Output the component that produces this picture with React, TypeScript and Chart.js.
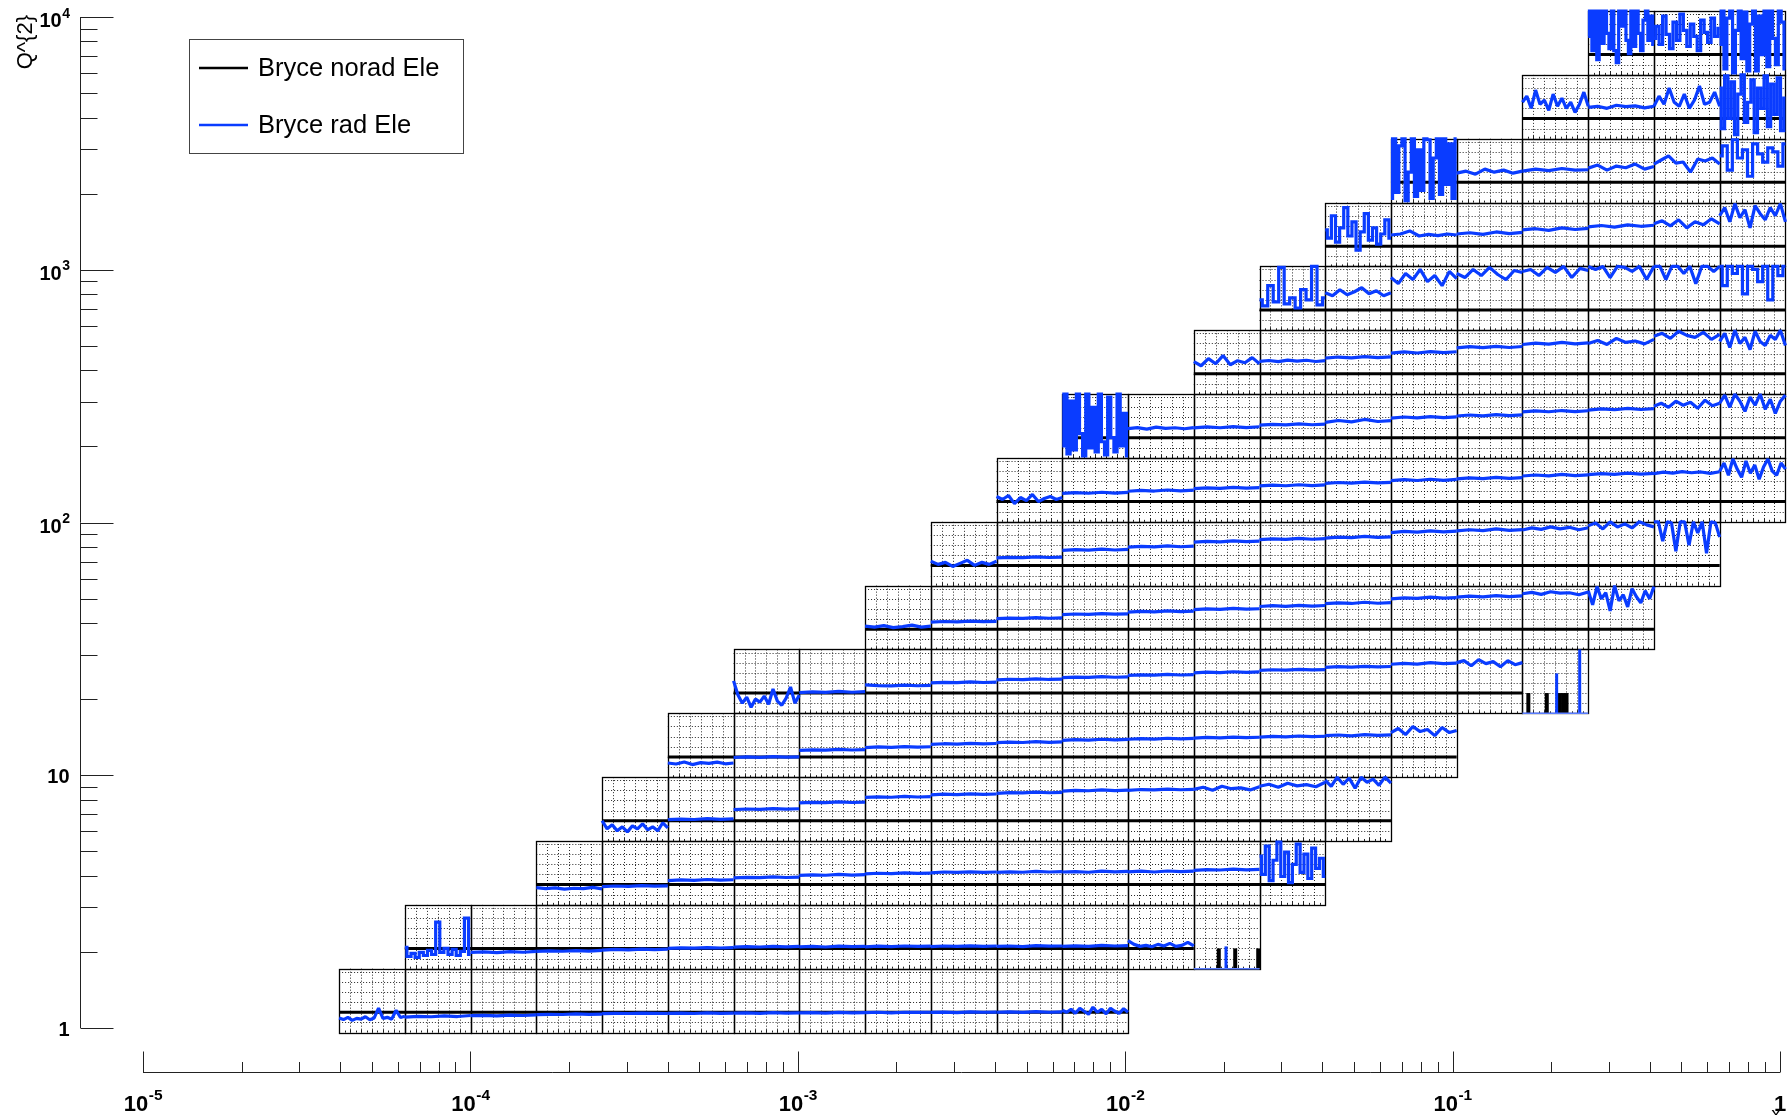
import React, { useEffect, useRef } from "react";
import { Chart, registerables } from "chart.js";

Chart.register(...registerables);

// ---- bin edges of the (x, Q^2) grid ----
const X_EDGES = [3.972e-5, 6.307e-5, 1.0014e-4, 1.59e-4, 2.525e-4, 4.009e-4, 6.365e-4, 1.0106e-3, 1.605e-3, 2.548e-3, 4.046e-3, 6.424e-3, 1.02e-2, 1.62e-2, 2.572e-2, 4.083e-2, 6.483e-2, 0.1029, 0.1634, 0.2596, 0.4121, 0.6543, 1.039];
const Q2_EDGES = [0.9594, 1.717, 3.07, 5.494, 9.827, 17.58, 31.45, 56.26, 100.6, 180.0, 322.1, 576.1, 1031, 1844, 3299, 5902, 10559];
const ROW_START_COL = [0, 1, 3, 4, 5, 6, 8, 9, 10, 11, 13, 14, 15, 16, 18, 19];
const NORAD_LEVEL = [1, 1, 1, 1, 1, 1, 1, 1, 1, 1, 1, 1, 1, 1, 1, 1];
const INNER_MAX = 3.15;
const GRID_V = [0.5, 1, 1.5, 2, 2.5, 3];
const GRID_T = [1 / 6, 2 / 6, 3 / 6, 4 / 6, 5 / 6];

// ---- radiative (blue) values per box, inner units (norad = 1) ----
const RAD_ROW_0 = [
  [0.72, 0.64, 0.75, 0.6, 0.7, 0.66, 0.78, 0.63, 0.72, 1.2, 0.7, 0.75, 0.66, 1.1, 0.74, 0.8],
  [0.76, 0.8, 0.78, 0.82, 0.79, 0.84],
  [0.83, 0.85, 0.82, 0.86, 0.84, 0.87],
  [0.88, 0.9, 0.89, 0.92, 0.9, 0.91],
  [0.93, 0.95, 0.94, 0.96, 0.95, 0.94],
  [0.95, 0.96, 0.94, 0.97, 0.95, 0.96],
  [0.96, 0.97, 0.95, 0.98, 0.96, 0.97],
  [0.97, 0.98, 0.96, 0.99, 0.97, 0.98],
  [0.98, 1.0, 0.97, 1.0, 0.99, 1.0],
  [0.99, 1.01, 0.98, 1.02, 1.0, 1.01],
  [1.0, 1.02, 0.99, 1.03, 1.0, 1.02],
  [1.1, 1.0, 1.15, 0.95, 1.2, 1.05, 0.9, 1.25, 1.0, 1.15, 0.92, 1.2, 1.05, 0.95, 1.18, 1.0],
];
const RAD_ROW_1 = [
  [1.05, 0.6, 0.75, 0.55, 0.8, 0.65, 0.9, 0.7, 2.3, 0.8, 1.0, 0.7, 0.95, 0.65, 0.85, 2.5, 0.7],
  [0.8, 0.83, 0.79, 0.84, 0.81, 0.85],
  [0.85, 0.88, 0.86, 0.89, 0.87, 0.9],
  [0.92, 0.95, 0.93, 0.96, 0.94, 0.96],
  [1.0, 1.03, 1.01, 1.04, 1.02, 1.04],
  [1.06, 1.09, 1.07, 1.1, 1.08, 1.1],
  [1.08, 1.1, 1.07, 1.11, 1.09, 1.1],
  [1.08, 1.11, 1.09, 1.12, 1.1, 1.11],
  [1.09, 1.12, 1.1, 1.13, 1.1, 1.12],
  [1.1, 1.12, 1.09, 1.14, 1.11, 1.12],
  [1.1, 1.13, 1.1, 1.15, 1.12, 1.14],
  [1.38, 1.2, 1.1, 1.15, 1.08, 1.2, 1.12, 1.25, 1.1, 1.15, 1.3, 1.12],
];
const RAD_ROW_2 = [
  [0.85, 0.8, 0.84, 0.78, 0.82, 0.8, 0.86, 0.79],
  [0.9, 0.93, 0.91, 0.95, 0.92, 0.94],
  [1.2, 1.23, 1.21, 1.25, 1.22, 1.24],
  [1.33, 1.36, 1.34, 1.38, 1.35, 1.37],
  [1.45, 1.48, 1.46, 1.5, 1.47, 1.49],
  [1.53, 1.56, 1.54, 1.58, 1.55, 1.57],
  [1.58, 1.62, 1.6, 1.63, 1.6, 1.62],
  [1.6, 1.63, 1.61, 1.65, 1.62, 1.64],
  [1.62, 1.64, 1.61, 1.66, 1.63, 1.65],
  [1.63, 1.66, 1.62, 1.67, 1.64, 1.66],
  [1.7, 1.74, 1.72, 1.76, 1.73, 1.75],
  [2.4, 1.5, 2.9, 1.2, 2.2, 3.1, 1.4, 2.6, 1.1, 2.0, 3.0, 1.6, 2.5, 1.3, 2.8, 1.8, 2.3, 1.4],
];
const RAD_ROW_3 = [
  [1.0, 0.6, 0.8, 0.5, 0.7, 0.45, 0.75, 0.6, 0.85, 0.55, 0.7, 0.5, 0.9, 0.65],
  [1.05, 1.08, 1.06, 1.1, 1.07, 1.09],
  [1.55, 1.58, 1.56, 1.6, 1.57, 1.59],
  [1.88, 1.91, 1.89, 1.93, 1.9, 1.92],
  [2.15, 2.18, 2.16, 2.2, 2.17, 2.19],
  [2.28, 2.31, 2.29, 2.33, 2.3, 2.32],
  [2.35, 2.39, 2.37, 2.41, 2.38, 2.4],
  [2.46, 2.5, 2.48, 2.52, 2.49, 2.51],
  [2.5, 2.54, 2.52, 2.56, 2.53, 2.55],
  [2.55, 2.65, 2.5, 2.7, 2.58, 2.62, 2.52, 2.68],
  [2.7, 2.8, 2.65, 2.85, 2.72, 2.78, 2.68, 2.9],
  [3.0, 2.7, 3.15, 2.8, 3.1, 2.6, 3.15, 2.9, 3.05, 2.75, 3.15, 2.85],
];
const RAD_ROW_4 = [
  [0.7, 0.65, 0.75, 0.62, 0.72, 0.68, 0.74, 0.66, 0.7],
  [0.97, 1.0, 0.98, 1.01, 0.99, 1.0],
  [1.32, 1.35, 1.33, 1.37, 1.34, 1.36],
  [1.46, 1.49, 1.47, 1.51, 1.48, 1.5],
  [1.62, 1.65, 1.63, 1.67, 1.64, 1.66],
  [1.7, 1.73, 1.71, 1.75, 1.72, 1.74],
  [1.82, 1.85, 1.83, 1.87, 1.84, 1.86],
  [1.87, 1.9, 1.88, 1.92, 1.89, 1.91],
  [1.93, 1.96, 1.94, 1.98, 1.95, 1.97],
  [1.98, 2.01, 1.99, 2.03, 2.0, 2.02],
  [2.05, 2.08, 2.04, 2.1, 2.06, 2.09],
  [2.2, 2.4, 2.1, 2.5, 2.25, 2.35, 2.05, 2.45, 2.2, 2.3],
];
const RAD_ROW_5 = [
  [1.6, 0.9, 0.5, 0.8, 0.3, 0.7, 0.55, 0.85, 0.45, 1.2, 0.6, 0.4, 0.75, 1.3, 0.5, 0.9],
  [1.02, 1.06, 1.03, 1.08, 1.04, 1.07],
  [1.4, 1.37, 1.35, 1.39, 1.36, 1.38],
  [1.5, 1.53, 1.51, 1.55, 1.52, 1.54],
  [1.65, 1.68, 1.66, 1.7, 1.67, 1.69],
  [1.76, 1.79, 1.77, 1.81, 1.78, 1.8],
  [1.87, 1.9, 1.88, 1.92, 1.89, 1.91],
  [2.0, 2.03, 2.01, 2.05, 2.02, 2.04],
  [2.12, 2.15, 2.13, 2.17, 2.14, 2.16],
  [2.27, 2.3, 2.28, 2.32, 2.29, 2.31],
  [2.42, 2.46, 2.43, 2.5, 2.45, 2.48],
  [2.5, 2.6, 2.35, 2.65, 2.45, 2.55, 2.3, 2.6, 2.4, 2.5],
];
const RAD_ROW_6 = [
  [1.15, 1.1, 1.18, 1.08, 1.13, 1.2, 1.1, 1.15],
  [1.35, 1.38, 1.36, 1.4, 1.37, 1.39],
  [1.52, 1.55, 1.53, 1.57, 1.54, 1.56],
  [1.72, 1.75, 1.73, 1.77, 1.74, 1.76],
  [1.84, 1.88, 1.86, 1.9, 1.87, 1.89],
  [1.97, 2.0, 1.98, 2.03, 1.99, 2.01],
  [2.12, 2.16, 2.13, 2.18, 2.14, 2.17],
  [2.26, 2.3, 2.27, 2.33, 2.28, 2.31],
  [2.5, 2.55, 2.52, 2.58, 2.53, 2.56],
  [2.58, 2.63, 2.6, 2.66, 2.61, 2.64],
  [2.75, 2.82, 2.72, 2.85, 2.78, 2.8, 2.7, 2.84],
  [2.9, 2.2, 3.1, 2.5, 2.8, 1.9, 3.15, 2.4, 2.7, 2.1, 3.0, 2.6, 2.3, 2.9, 2.5, 3.1],
];
const RAD_ROW_7 = [
  [1.2, 1.05, 1.15, 0.95, 1.1, 1.25, 1.0, 1.15, 1.05, 1.2],
  [1.37, 1.4, 1.38, 1.42, 1.39, 1.41],
  [1.74, 1.78, 1.75, 1.8, 1.76, 1.79],
  [1.9, 1.94, 1.91, 1.96, 1.92, 1.95],
  [2.15, 2.19, 2.16, 2.21, 2.17, 2.2],
  [2.27, 2.31, 2.28, 2.33, 2.29, 2.32],
  [2.35, 2.4, 2.37, 2.43, 2.38, 2.41],
  [2.62, 2.68, 2.64, 2.7, 2.65, 2.69],
  [2.7, 2.76, 2.72, 2.8, 2.73, 2.77],
  [2.75, 2.85, 2.78, 2.9, 2.8, 2.88, 2.76, 2.86],
  [2.95, 3.1, 2.8, 3.15, 2.9, 3.05, 2.85, 3.15, 3.0, 2.9],
  [3.15, 3.15, 2.2, 3.15, 3.1, 1.7, 3.15, 3.15, 2.0, 3.15, 2.6, 3.15, 1.6, 3.15, 3.1, 2.4],
];
const RAD_ROW_8 = [
  [1.25, 1.1, 1.3, 0.9, 1.2, 1.05, 1.35, 1.0, 1.15, 1.25, 1.1, 1.2],
  [1.4, 1.44, 1.41, 1.46, 1.42, 1.45],
  [1.51, 1.55, 1.52, 1.57, 1.53, 1.56],
  [1.64, 1.68, 1.65, 1.7, 1.66, 1.69],
  [1.77, 1.81, 1.78, 1.83, 1.79, 1.82],
  [1.9, 1.94, 1.91, 1.96, 1.92, 1.95],
  [2.03, 2.08, 2.04, 2.1, 2.05, 2.09],
  [2.12, 2.17, 2.13, 2.19, 2.14, 2.18],
  [2.26, 2.31, 2.27, 2.34, 2.28, 2.32],
  [2.33, 2.38, 2.34, 2.4, 2.35, 2.39],
  [2.38, 2.45, 2.4, 2.48, 2.42, 2.46, 2.39, 2.47],
  [2.5, 2.9, 2.3, 3.1, 2.6, 2.2, 3.0, 2.4, 2.8, 2.1, 2.7, 3.1, 2.5, 2.3, 2.9, 2.6],
];
const RAD_ROW_9 = [
  [0.6, 3.15, 0.2, 2.8, 0.4, 3.15, 1.2, 0.1, 3.15, 0.5, 2.5, 0.3, 3.15, 0.8, 0.15, 3.0, 1.0, 0.3, 3.15, 0.6, 2.2, 0.1],
  [1.45, 1.5, 1.42, 1.52, 1.46, 1.49, 1.44, 1.5],
  [1.48, 1.53, 1.49, 1.55, 1.5, 1.54],
  [1.62, 1.66, 1.63, 1.68, 1.64, 1.67],
  [1.76, 1.85, 1.78, 1.9, 1.8, 1.84],
  [1.97, 2.02, 1.98, 2.04, 1.99, 2.03],
  [2.07, 2.12, 2.08, 2.14, 2.09, 2.13],
  [2.27, 2.32, 2.28, 2.34, 2.29, 2.33],
  [2.36, 2.42, 2.38, 2.45, 2.39, 2.43],
  [2.55, 2.7, 2.5, 2.8, 2.6, 2.75, 2.45, 2.85, 2.58, 2.7],
  [2.7, 3.1, 2.5, 3.15, 2.8, 2.3, 3.0, 2.6, 3.15, 2.4, 2.9, 2.2, 2.8, 3.1],
];
const RAD_ROW_10 = [
  [1.6, 1.4, 1.75, 1.5, 1.9, 1.45, 1.65, 1.55, 1.8, 1.5],
  [1.62, 1.66, 1.6, 1.68, 1.63, 1.67, 1.61, 1.65],
  [1.78, 1.83, 1.79, 1.85, 1.8, 1.84],
  [2.02, 2.08, 2.03, 2.1, 2.05, 2.09],
  [2.28, 2.34, 2.29, 2.36, 2.3, 2.35],
  [2.45, 2.52, 2.47, 2.55, 2.48, 2.53],
  [2.5, 2.65, 2.45, 2.75, 2.55, 2.62, 2.48, 2.7],
  [2.85, 3.0, 2.75, 3.1, 2.9, 2.8, 3.05, 2.7, 2.95],
  [2.6, 3.0, 2.3, 3.15, 2.5, 2.8, 2.2, 3.1, 2.6, 2.4, 2.9, 2.7, 3.15, 2.4],
];
const RAD_ROW_11 = [
  [1.5, 1.2, 2.2, 1.4, 3.1, 1.3, 1.6, 1.1, 2.0, 1.5, 3.15, 1.25, 1.6],
  [1.85, 1.7, 2.0, 1.75, 1.9, 2.1, 1.8, 1.95, 1.7, 1.85],
  [2.6, 2.3, 2.8, 2.5, 3.0, 2.4, 2.7, 2.2, 2.9, 2.55],
  [2.8, 2.6, 3.0, 2.7, 3.1, 2.75, 2.5, 2.95, 2.85],
  [2.9, 3.0, 2.7, 3.1, 2.85, 3.15, 2.6, 3.05, 2.95],
  [3.15, 3.0, 3.15, 2.6, 3.15, 3.1, 2.9, 3.15, 2.5, 3.15],
  [3.15, 3.15, 2.5, 3.15, 3.15, 2.8, 3.15, 2.3, 3.15, 3.15, 2.9, 3.15],
  [3.15, 2.2, 3.15, 2.8, 3.15, 1.8, 3.15, 3.0, 2.4, 3.15, 1.5, 3.15, 2.7, 3.15],
];
const RAD_ROW_12 = [
  [1.8, 1.4, 2.5, 1.2, 1.9, 2.9, 1.5, 2.2, 0.8, 1.7, 2.6, 1.3, 1.9, 1.1, 1.6, 2.3, 1.4],
  [1.55, 1.6, 1.75, 1.5, 1.58, 1.52, 1.6, 1.55],
  [1.6, 1.66, 1.58, 1.7, 1.62, 1.68],
  [1.8, 1.86, 1.78, 1.9, 1.82, 1.88],
  [1.95, 2.02, 1.94, 2.05, 1.98, 2.03],
  [2.1, 2.25, 2.0, 2.3, 1.9, 2.2, 2.05, 2.35, 2.1],
  [2.5, 2.9, 2.2, 3.1, 2.4, 2.8, 1.9, 3.0, 2.6, 2.3, 2.9, 2.5, 3.1, 2.2],
];
const RAD_ROW_13 = [
  [0.2, 3.15, 0.5, 2.8, 3.15, 0.1, 1.5, 3.15, 0.3, 2.6, 0.6, 3.15, 3.1, 0.2, 2.2, 3.15, 0.4, 3.15, 0.9, 2.9, 0.2, 3.15],
  [1.45, 1.55, 1.4, 1.65, 1.5, 1.6, 1.45, 1.55],
  [1.55, 1.65, 1.58, 1.68, 1.6, 1.62],
  [1.7, 1.85, 1.6, 1.8, 1.72, 1.9, 1.65, 1.78],
  [1.9, 2.1, 2.3, 1.95, 2.0, 1.5, 2.15, 2.05, 2.2, 1.9],
  [2.3, 2.8, 1.6, 3.1, 2.2, 2.6, 1.3, 2.9, 2.4, 2.0, 2.7, 2.5, 1.8, 2.9],
];
const RAD_ROW_14 = [
  [1.8, 2.1, 1.5, 2.4, 1.7, 1.9, 1.4, 2.2, 1.6, 2.0, 1.5, 1.8, 1.3, 1.7, 2.3, 1.6],
  [1.55, 1.6, 1.5, 1.65, 1.58, 1.62, 1.52, 1.6],
  [1.6, 2.1, 1.7, 2.5, 1.8, 1.6, 2.2, 1.5, 1.9, 2.6, 1.7, 1.8, 2.3, 1.6],
  [2.5, 0.5, 3.1, 1.0, 2.8, 0.2, 2.2, 3.15, 0.8, 1.8, 2.9, 0.3, 2.5, 1.5, 3.1, 0.6, 2.7, 1.2, 3.0, 0.4, 2.0],
];
const RAD_ROW_15 = [
  [1.9, 3.15, 1.2, 3.15, 0.75, 3.15, 1.55, 3.15, 2.05, 1.3, 3.15, 1.2, 0.6, 3.15, 2.4, 3.15, 1.7, 1.05, 3.15, 1.4, 3.15, 2.05, 1.2, 2.7, 3.15, 1.7, 2.9, 1.5],
  [1.8, 2.4, 1.5, 2.9, 2.0, 1.3, 2.6, 1.7, 3.0, 2.2, 1.4, 2.5, 1.9, 1.2, 2.7, 2.1, 1.6, 2.8, 1.9, 2.3],
  [1.5, 3.15, 0.3, 2.8, 3.15, 0.1, 2.2, 3.15, 0.8, 3.1, 0.2, 2.5, 3.15, 0.2, 2.9, 1.0, 3.15, 0.4, 3.15, 1.8, 0.5, 3.15, 2.6, 0.3],
];
const RAD_ROWS = [RAD_ROW_0, RAD_ROW_1, RAD_ROW_2, RAD_ROW_3, RAD_ROW_4, RAD_ROW_5, RAD_ROW_6, RAD_ROW_7, RAD_ROW_8, RAD_ROW_9, RAD_ROW_10, RAD_ROW_11, RAD_ROW_12, RAD_ROW_13, RAD_ROW_14, RAD_ROW_15];

// ---- sparse boxes drawn as bars ----
const BAR_BOX_ROWS = [1, 5];
const BAR_BOX_COLS = [13, 18];
const NORAD_BARS = [[0.38, 0.63, 0.98], [0.09, 0.37, 0.57, 0.62, 0.67]];
const RAD_BARS_POS = [[0.49], [0.52, 0.87]];
const RAD_BARS_VAL = [[1.1], [1.97, 3.15]];

// ---- axes ----
const Y_TICK_VALUES = [1, 10, 100, 1000, 10000];
const Y_TICK_LABELS = [["1", ""], ["10", ""], ["10", "2"], ["10", "3"], ["10", "4"]];
const X_TICK_VALUES = [1e-5, 1e-4, 1e-3, 1e-2, 1e-1, 1];
const X_TICK_LABELS = [["10", "-5"], ["10", "-4"], ["10", "-3"], ["10", "-2"], ["10", "-1"], ["1", ""]];
const Y_AXIS_AT_X = 6.42e-6;
const X_AXIS_AT_Q2 = 0.67;
const LEGEND_LABELS = ["Bryce norad Ele", "Bryce rad Ele"];
const X_TITLE = "x";
const Y_TITLE = "Q^{2}";

const BLACK = "#000000";
const BLUE = "#0a3cff";
const FONT = '"Liberation Sans", Arial, Helvetica, sans-serif';

const lerpLog = (a: number, b: number, f: number) =>
  Math.pow(10, Math.log10(a) + (Math.log10(b) - Math.log10(a)) * f);
const boxX = (c: number, t: number) => lerpLog(X_EDGES[c], X_EDGES[c + 1], t);
const boxY = (r: number, v: number) => lerpLog(Q2_EDGES[r], Q2_EDGES[r + 1], v / INNER_MAX);

function lineDs(data: any[], color: string, width: number, order: number, extra: any = {}) {
  return {
    type: "line",
    data,
    borderColor: color,
    backgroundColor: color,
    borderWidth: width,
    pointRadius: 0,
    pointHoverRadius: 0,
    fill: false,
    tension: 0,
    clip: false,
    order,
    ...extra,
  };
}

function buildDatasets() {
  const ds: any[] = [];
  RAD_ROWS.forEach((row, r) => {
    const c0 = ROW_START_COL[r];
    const lvl = NORAD_LEVEL[r];
    ds.push(
      lineDs(
        [
          { x: X_EDGES[c0], y: boxY(r, lvl) },
          { x: X_EDGES[c0 + row.length], y: boxY(r, lvl) },
        ],
        BLACK,
        3,
        2,
        { borderCapStyle: "butt" }
      )
    );
    row.forEach((vals, k) => {
      const c = c0 + k;
      const n = vals.length;
      const spread = Math.max(...vals) - Math.min(...vals);
      const wild = spread > 1.6;
      ds.push(
        lineDs(
          vals.map((v, i) => ({ x: boxX(c, i / (n - 1)), y: boxY(r, v) })),
          BLUE,
          3.2,
          1,
          wild
            ? { stepped: "middle", borderJoinStyle: "miter", borderCapStyle: "butt" }
            : { borderJoinStyle: "bevel", borderCapStyle: "butt" }
        )
      );
    });
  });
  BAR_BOX_ROWS.forEach((r, b) => {
    const c = BAR_BOX_COLS[b];
    NORAD_BARS[b].forEach((t) => {
      ds.push(
        lineDs(
          [
            { x: boxX(c, t), y: boxY(r, 0) },
            { x: boxX(c, t), y: boxY(r, NORAD_LEVEL[r]) },
          ],
          BLACK,
          4,
          2,
          { borderCapStyle: "butt" }
        )
      );
    });
    ds.push(
      lineDs(
        [
          { x: X_EDGES[c], y: boxY(r, 0) },
          { x: X_EDGES[c + 1], y: boxY(r, 0) },
        ],
        "#5a7dff",
        1.5,
        1
      )
    );
    RAD_BARS_POS[b].forEach((t, i) => {
      ds.push(
        lineDs(
          [
            { x: boxX(c, t), y: boxY(r, 0) },
            { x: boxX(c, t), y: boxY(r, RAD_BARS_VAL[b][i]) },
          ],
          BLUE,
          3,
          1,
          { borderCapStyle: "butt" }
        )
      );
    });
  });
  return ds;
}

const snap = (p: number) => Math.round(p) + 0.5;

const framePlugin = {
  id: "boxFrames",
  beforeDatasetsDraw(chart: any) {
    const { ctx } = chart;
    const xs = chart.scales.x;
    const ys = chart.scales.y;
    ctx.save();
    RAD_ROWS.forEach((row, r) => {
      const c0 = ROW_START_COL[r];
      const nBars = BAR_BOX_ROWS.indexOf(r) >= 0 ? 1 : 0;
      for (let c = c0; c < c0 + row.length + nBars; c++) {
        const x0 = xs.getPixelForValue(X_EDGES[c]);
        const x1 = xs.getPixelForValue(X_EDGES[c + 1]);
        const yb = ys.getPixelForValue(Q2_EDGES[r]);
        const yt = ys.getPixelForValue(Q2_EDGES[r + 1]);
        ctx.setLineDash([1, 2]);
        ctx.strokeStyle = "rgba(0,0,0,0.85)";
        ctx.lineWidth = 1;
        ctx.beginPath();
        GRID_T.forEach((t) => {
          const px = snap(xs.getPixelForValue(boxX(c, t)));
          ctx.moveTo(px, yt);
          ctx.lineTo(px, yb);
        });
        GRID_V.forEach((v) => {
          const py = snap(ys.getPixelForValue(boxY(r, v)));
          ctx.moveTo(x0, py);
          ctx.lineTo(x1, py);
        });
        ctx.stroke();
        ctx.setLineDash([]);
        ctx.beginPath();
        for (let k = 1; k < 12; k++) {
          const px = snap(xs.getPixelForValue(boxX(c, k / 12)));
          ctx.moveTo(px, yb);
          ctx.lineTo(px, yb - (k % 2 === 0 ? 3 : 2));
        }
        ctx.stroke();
        ctx.strokeStyle = "#000";
        ctx.lineWidth = 1.3;
        ctx.strokeRect(snap(x0), snap(yt), Math.round(x1) - Math.round(x0), Math.round(yb) - Math.round(yt));
      }
    });
    ctx.restore();
  },
  afterDraw(chart: any) {
    const { ctx } = chart;
    const xs = chart.scales.x;
    const ys = chart.scales.y;
    ctx.save();
    ctx.strokeStyle = "#222";
    ctx.fillStyle = "#000";
    ctx.lineWidth = 1;

    // ---- Y axis ----
    const ax = snap(xs.getPixelForValue(Y_AXIS_AT_X));
    const yTop = ys.getPixelForValue(Y_TICK_VALUES[Y_TICK_VALUES.length - 1]);
    const yBot = ys.getPixelForValue(Y_TICK_VALUES[0]);
    ctx.beginPath();
    ctx.moveTo(ax, yTop);
    ctx.lineTo(ax, yBot);
    Y_TICK_VALUES.forEach((v, i) => {
      const py = snap(ys.getPixelForValue(v));
      ctx.moveTo(ax, py);
      ctx.lineTo(ax + 33, py);
      if (i < Y_TICK_VALUES.length - 1) {
        for (let m = 2; m <= 9; m++) {
          const pm = snap(ys.getPixelForValue(v * m));
          ctx.moveTo(ax, pm);
          ctx.lineTo(ax + 17, pm);
        }
      }
    });
    ctx.stroke();

    const drawPow = (base: string, exp: string, x: number, yBase: number, align: string, big: number, small: number, raise: number) => {
      ctx.font = `bold ${big}px ${FONT}`;
      const wb = ctx.measureText(base).width;
      ctx.font = `bold ${small}px ${FONT}`;
      const we = exp ? ctx.measureText(exp).width : 0;
      const total = wb + we;
      let start = x;
      if (align === "right") start = x - total;
      else if (align === "center") start = x - total / 2;
      ctx.textAlign = "left";
      ctx.textBaseline = "alphabetic";
      ctx.font = `bold ${big}px ${FONT}`;
      ctx.fillText(base, start, yBase);
      if (exp) {
        ctx.font = `bold ${small}px ${FONT}`;
        ctx.fillText(exp, start + wb + 0.5, yBase - raise);
      }
    };

    Y_TICK_VALUES.forEach((v, i) => {
      const py = ys.getPixelForValue(v);
      const [b, e] = Y_TICK_LABELS[i];
      drawPow(b, e, ax - 11, py + (e ? 10 : 7.5), "right", 20, 14, 9.5);
    });

    // ---- X axis ----
    const ay = snap(ys.getPixelForValue(X_AXIS_AT_Q2));
    const xL = xs.getPixelForValue(X_TICK_VALUES[0]);
    const xR = xs.getPixelForValue(X_TICK_VALUES[X_TICK_VALUES.length - 1]);
    ctx.beginPath();
    ctx.moveTo(xL, ay);
    ctx.lineTo(xR, ay);
    X_TICK_VALUES.forEach((v, i) => {
      const px = snap(xs.getPixelForValue(v));
      ctx.moveTo(px, ay);
      ctx.lineTo(px, ay - 21);
      if (i < X_TICK_VALUES.length - 1) {
        for (let m = 2; m <= 9; m++) {
          const pm = snap(xs.getPixelForValue(v * m));
          ctx.moveTo(pm, ay);
          ctx.lineTo(pm, ay - 10.5);
        }
      }
    });
    ctx.stroke();
    X_TICK_VALUES.forEach((v, i) => {
      const px = xs.getPixelForValue(v);
      const [b, e] = X_TICK_LABELS[i];
      drawPow(b, e, px, ay + 38, "center", 22, 15.5, 10.5);
    });

    // ---- axis titles ----
    ctx.font = `19px ${FONT}`;
    ctx.textAlign = "center";
    ctx.textBaseline = "alphabetic";
    ctx.fillText(X_TITLE, xR - 4, ay + 47);
    ctx.save();
    ctx.translate(ax - 49, yTop - 2);
    ctx.rotate(-Math.PI / 2);
    ctx.textAlign = "right";
    ctx.font = `22px ${FONT}`;
    ctx.fillText(Y_TITLE, 0, 0);
    ctx.restore();

    // ---- legend ----
    ctx.strokeStyle = "#444";
    ctx.lineWidth = 1;
    ctx.strokeRect(189.5, 39.5, 274, 114);
    const ly = [68, 125];
    const lc = [BLACK, BLUE];
    LEGEND_LABELS.forEach((lab, i) => {
      ctx.strokeStyle = lc[i];
      ctx.lineWidth = 2.5;
      ctx.beginPath();
      ctx.moveTo(199, ly[i]);
      ctx.lineTo(248, ly[i]);
      ctx.stroke();
      ctx.fillStyle = "#000";
      ctx.font = `25.5px ${FONT}`;
      ctx.textAlign = "left";
      ctx.textBaseline = "alphabetic";
      ctx.fillText(lab, 258, ly[i] + 7.5);
    });
    ctx.restore();
  },
};

export default function App() {
  const ref = useRef<HTMLCanvasElement>(null);
  useEffect(() => {
    const canvas = ref.current;
    if (!canvas) return;
    const chart = new Chart(canvas, {
      type: "line",
      data: { datasets: buildDatasets() as any },
      options: {
        responsive: false,
        maintainAspectRatio: false,
        animation: false,
        devicePixelRatio: 1,
        layout: { padding: { left: 143, right: 2.06, top: 17, bottom: 87 } },
        scales: {
          x: { type: "logarithmic", min: 1e-5, max: 1.05, display: false },
          y: { type: "logarithmic", min: 1, max: 1e4, display: false },
        },
        plugins: { legend: { display: false }, tooltip: { enabled: false } },
        events: [],
      } as any,
      plugins: [framePlugin],
    });
    return () => chart.destroy();
  }, []);
  return (
    <div style={{ position: "absolute", left: 0, top: 0, width: 1789, height: 1115, background: "#fff" }}>
      <canvas ref={ref} width={1789} height={1115} style={{ display: "block", width: 1789, height: 1115 }} />
    </div>
  );
}
